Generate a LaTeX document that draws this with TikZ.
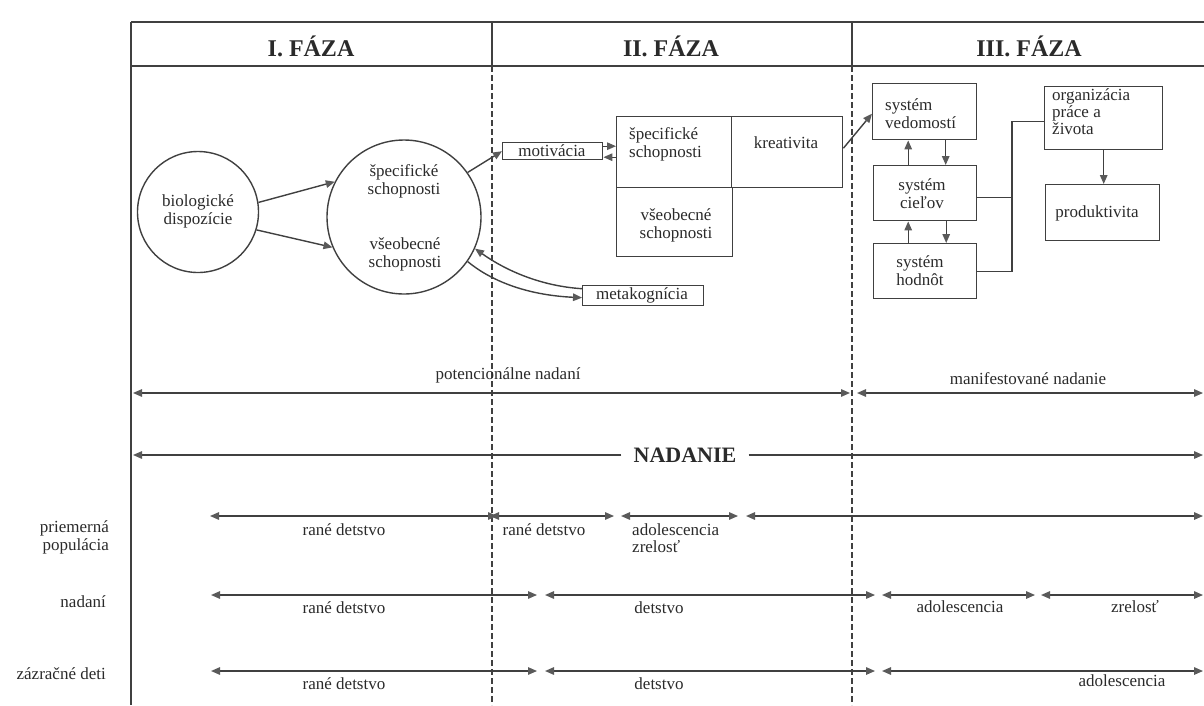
\documentclass[tikz,border=0pt]{standalone}
\usepackage{fontspec}
\setmainfont{Liberation Serif}
\usetikzlibrary{arrows.meta}
\definecolor{lc}{HTML}{404040}
\definecolor{tipc}{HTML}{5A5A5A}
\definecolor{tc}{HTML}{2A2A2A}
\tikzset{
  ln/.style={draw=lc, line width=1.4pt},
  tip/.tip={Triangle[length=9pt,width=7.5pt,color=tipc]},
  arr/.style={ln, -tip},
  darr/.style={ln, tip-tip},
  dsh/.style={draw=lc, line width=1.2pt, dash pattern=on 6pt off 3pt},
  box/.style={draw=lc, line width=1.4pt, inner sep=0pt, anchor=north west},
  ring/.style={draw=lc, line width=1.4pt, circle, inner sep=0pt},
  txt/.style={font=\fontsize{17}{18}\selectfont, text=tc, align=center, inner sep=0pt},
  ltxt/.style={txt, align=left, anchor=west},
  head/.style={font=\fontsize{24}{26}\selectfont\bfseries, text=tc, inner sep=0pt},
}
\begin{document}
\begin{tikzpicture}[x=1pt,y=-1pt]
\useasboundingbox (0,0) rectangle (1204,705);
% frame
\coordinate (tl) at (131,22);
\coordinate (tr) at (1204,22);
\coordinate (hl) at (131,66);
\coordinate (hr) at (1204,66);
\coordinate (bl) at (131,705);
\coordinate (p1t) at (492,22);
\coordinate (p1h) at (492,66);
\coordinate (p1b) at (492,705);
\coordinate (p2t) at (852,22);
\coordinate (p2h) at (852,66);
\coordinate (p2b) at (852,705);
\draw[ln] (tl) -- (tr);
\draw[ln] (hl) -- (hr);
\draw[ln] (tl) -- (bl);
\draw[ln] (p1t) -- (p1h);
\draw[ln] (p2t) -- (p2h);
\draw[dsh] (p1h) -- (p1b);
\draw[dsh] (p2h) -- (p2b);
% headers
\node[head] (h1) at (311,46) {I. FÁZA};
\node[head] (h2) at (671,46) {II. FÁZA};
\node[head] (h3) at (1029,46) {III. FÁZA};
% phase I
\node[ring, minimum size=121pt] (bio) at (198,212) {};
\node[txt] (biot) at (198,211) {biologické\\dispozície};
\node[ring, minimum size=154pt] (c2) at (404,217) {};
\node[txt] (c2a) at (404,181) {špecifické\\schopnosti};
\node[txt] (c2b) at (405,254) {všeobecné\\schopnosti};
\draw[arr] (bio.9) -- (c2.153);
\draw[arr] (bio.-17) -- (c2.203);
% phase II
\node[box, minimum width=100pt, minimum height=17pt] (motiv) at (502,142) {};
\node[txt] (motivt) at (552,151) {motivácia};
\node[box, minimum width=115pt, minimum height=71pt] (spec) at (616,116) {};
\node[ltxt] (spect) at (629,144) {špecifické\\schopnosti};
\node[box, minimum width=111pt, minimum height=71pt] (kreat) at (731,116) {};
\node[txt] (kreatt) at (786,143) {kreativita};
\node[box, minimum width=116pt, minimum height=69pt] (vseob) at (616,187) {};
\node[txt] (vseobt) at (676,225) {všeobecné\\schopnosti};
\node[box, minimum width=121pt, minimum height=20pt] (meta) at (582,285) {};
\node[txt] (metat) at (642,295) {metakognícia};
\draw[arr] (c2.35) -- (motiv.west);
\draw[arr] ([yshift=5pt]motiv.east) -- ([yshift=5pt]motiv.east -| spec.west);
\draw[arr] ([yshift=-6pt]motiv.east -| spec.west) -- ([yshift=-6pt]motiv.east);
\coordinate (metain) at ([yshift=7pt]meta.west);
\coordinate (metaout) at ([yshift=-2pt]meta.west);
\draw[arr] (metain) .. controls (540,286) and (505,270) .. (c2.-24);
\draw[arr] (c2.-35) .. controls (490,280) and (525,295) .. (metaout);
% phase III
\node[box, minimum width=104pt, minimum height=56pt] (ved) at (872,83) {};
\node[ltxt] (vedt) at (885,114) {systém\\vedomostí};
\node[box, minimum width=103pt, minimum height=55pt] (ciel) at (873,165) {};
\node[txt] (cielt) at (922,194) {systém\\cieľov};
\node[box, minimum width=103pt, minimum height=55pt] (hod) at (873,243) {};
\node[txt] (hodt) at (920,271) {systém\\hodnôt};
\node[box, minimum width=118pt, minimum height=63pt] (org) at (1044,86) {};
\node[ltxt, font=\fontsize{17}{17}\selectfont] (orgt) at (1052,112) {organizácia\\práce a\\života};
\node[box, minimum width=114pt, minimum height=56pt] (prod) at (1045,184) {};
\node[txt] (prodt) at (1097,213) {produktivita};
\draw[arr] ([yshift=4pt]kreat.east) -- ([yshift=-2pt]ved.west);
\draw[arr] ([xshift=-17pt]ciel.north) -- ([xshift=-17pt]ciel.north |- ved.south);
\draw[arr] ([xshift=21pt]ved.south) -- ([xshift=21pt]ved.south |- ciel.north);
\draw[arr] ([xshift=-17pt]hod.north) -- ([xshift=-17pt]hod.north |- ciel.south);
\draw[arr] ([xshift=21pt]ciel.south) -- ([xshift=21pt]ciel.south |- hod.north);
\coordinate (jx) at (1012,0);
\coordinate (cielout) at ([yshift=-4pt]ciel.east);
\coordinate (orgin) at ([yshift=-3pt]org.west);
\draw[ln] (cielout) -- (cielout -| jx);
\draw[ln] (hod.east) -| (jx |- orgin) -- (orgin);
\draw[arr] (org.south) -- (org.south |- prod.north);
% potential / manifest
\coordinate (potL) at (133,393);
\coordinate (potR) at (850,393);
\coordinate (manL) at (857,393);
\coordinate (manR) at (1203,393);
\draw[darr] (potL) -- (potR);
\draw[darr] (manL) -- (manR);
\node[txt] (pott) at (508,375) {potencionálne nadaní};
\node[txt] (mant) at (1028,379) {manifestované nadanie};
% NADANIE
\node[font=\fontsize{22}{24}\selectfont\bfseries, text=tc, inner ysep=0pt, inner xsep=12pt] (nad) at (685,455) {NADANIE};
\coordinate (nadL) at (133,455);
\coordinate (nadR) at (1203,455);
\draw[arr] (nad.west) -- (nadL);
\draw[arr] (nad.east) -- (nadR);
% left labels
\node[txt, align=right, anchor=east] (lab1) at (109,537) {priemerná\\populácia};
\node[txt, anchor=east] (lab2) at (106,602) {nadaní};
\node[txt, anchor=east] (lab3) at (106,674) {zázračné deti};
% row 1
\coordinate (r1a) at (210,516);
\coordinate (r1b) at (497,516);
\coordinate (r1c) at (490,516);
\coordinate (r1d) at (614,516);
\coordinate (r1e) at (621,516);
\coordinate (r1f) at (738,516);
\coordinate (r1g) at (746,516);
\coordinate (r1h) at (1203,516);
\draw[darr] (r1a) -- (r1b);
\draw[darr] (r1c) -- (r1d);
\draw[darr] (r1e) -- (r1f);
\draw[darr] (r1g) -- (r1h);
\node[txt] (r1t1) at (344,530) {rané detstvo};
\node[txt] (r1t2) at (544,530) {rané detstvo};
\node[txt, anchor=west] (r1t3) at (632,530) {adolescencia};
\node[txt, anchor=west] (r1t4) at (632,547) {zrelosť};
% row 2
\coordinate (r2a) at (211,595);
\coordinate (r2b) at (537,595);
\coordinate (r2c) at (545,595);
\coordinate (r2d) at (875,595);
\coordinate (r2e) at (882,595);
\coordinate (r2f) at (1035,595);
\coordinate (r2g) at (1041,595);
\coordinate (r2h) at (1203,595);
\draw[darr] (r2a) -- (r2b);
\draw[darr] (r2c) -- (r2d);
\draw[darr] (r2e) -- (r2f);
\draw[darr] (r2g) -- (r2h);
\node[txt] (r2t1) at (344,608) {rané detstvo};
\node[txt] (r2t2) at (659,608) {detstvo};
\node[txt] (r2t3) at (960,607) {adolescencia};
\node[txt] (r2t4) at (1135,607) {zrelosť};
% row 3
\coordinate (r3a) at (211,671);
\coordinate (r3b) at (537,671);
\coordinate (r3c) at (545,671);
\coordinate (r3d) at (875,671);
\coordinate (r3e) at (882,671);
\coordinate (r3f) at (1203,671);
\draw[darr] (r3a) -- (r3b);
\draw[darr] (r3c) -- (r3d);
\draw[darr] (r3e) -- (r3f);
\node[txt] (r3t1) at (344,684) {rané detstvo};
\node[txt] (r3t2) at (659,684) {detstvo};
\node[txt] (r3t3) at (1122,681) {adolescencia};
\end{tikzpicture}
\end{document}
